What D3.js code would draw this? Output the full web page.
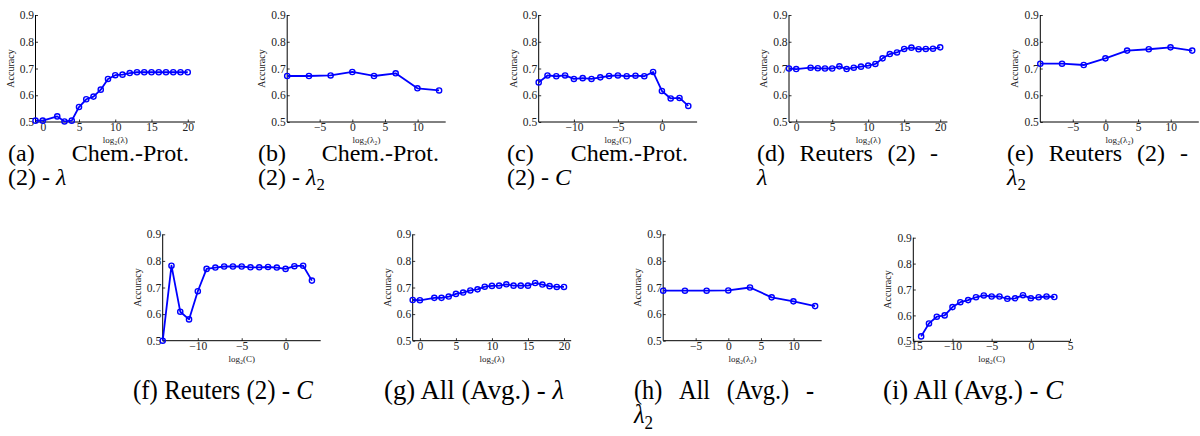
<!DOCTYPE html>
<html><head><meta charset="utf-8">
<script src="https://cdn.jsdelivr.net/npm/d3@7"></script>
<style>
  body { margin: 0; background: #fff; }
  svg { display: block; }
</style>
</head><body>
<svg id="fig" width="1200" height="436"></svg>
<script>
// ---- parameter grids (log2 of the swept value) ----
const lambdaX  = [-1, 0, 2, 3, 4, 5, 6, 7, 8, 9, 10, 11, 12, 13, 14, 15, 16, 17, 18, 19, 20];
const lambda2X = [-9.97, -6.64, -3.32, 0, 3.32, 6.64, 9.97, 13.29];
const cX       = [-14, -13, -12, -11, -10, -9, -8, -7, -6, -5, -4, -3, -2, -1, 0, 1, 2, 3];

// ---- accuracy series ----
const chemLambda  = [0.505, 0.505, 0.521, 0.502, 0.505, 0.556, 0.585, 0.595, 0.621, 0.661, 0.675,
                     0.677, 0.683, 0.686, 0.686, 0.686, 0.686, 0.686, 0.686, 0.686, 0.686];
const chemLambda2 = [0.672, 0.672, 0.674, 0.687, 0.672, 0.682, 0.626, 0.618];
const chemC       = [0.648, 0.674, 0.671, 0.674, 0.661, 0.664, 0.661, 0.667, 0.672, 0.674, 0.671,
                     0.673, 0.671, 0.687, 0.616, 0.588, 0.590, 0.560];
const reutLambda  = [0.700, 0.698, 0.703, 0.701, 0.700, 0.700, 0.708, 0.698, 0.703, 0.707, 0.711,
                     0.717, 0.738, 0.754, 0.760, 0.773, 0.778, 0.772, 0.773, 0.774, 0.779];
const reutLambda2 = [0.718, 0.718, 0.713, 0.738, 0.767, 0.772, 0.779, 0.767];
const reutC       = [0.500, 0.782, 0.609, 0.580, 0.686, 0.770, 0.775, 0.779, 0.779, 0.779, 0.776,
                     0.776, 0.777, 0.775, 0.770, 0.780, 0.782, 0.726];
const allLambda   = [0.653, 0.652, 0.661, 0.661, 0.666, 0.676, 0.681, 0.689, 0.693, 0.703, 0.706,
                     0.707, 0.712, 0.707, 0.707, 0.707, 0.717, 0.711, 0.705, 0.702, 0.702];
const allLambda2  = [0.688, 0.688, 0.688, 0.689, 0.700, 0.663, 0.648, 0.630];
const allC        = [0.519, 0.569, 0.595, 0.600, 0.632, 0.651, 0.659, 0.670, 0.677, 0.673, 0.673,
                     0.664, 0.666, 0.678, 0.666, 0.670, 0.673, 0.671];

// ---- axis ticks and titles ----
const yTicks        = [0.5, 0.6, 0.7, 0.8, 0.9];
const lambdaTicks   = [0, 5, 10, 15, 20];
const lambda2Ticks  = [-5, 0, 5, 10];
const cTicks        = [-10, -5, 0];
const cTicksWide    = [-15, -10, -5, 0, 5];
const xTitleLambda  = "log\u2082(\u03bb)";
const xTitleLambda2 = "log\u2082(\u03bb\u2082)";
const xTitleC       = "log\u2082(C)";
const yTitle        = "Accuracy";

// ---- captions: one array of words per line ($..$ = math, _ = subscript) ----
const captionA = [["(a)", "Chem.-Prot."], ["(2)", "-", "$λ$"]];
const captionB = [["(b)", "Chem.-Prot."], ["(2)", "-", "$λ_2$"]];
const captionC = [["(c)", "Chem.-Prot."], ["(2)", "-", "$C$"]];
const captionD = [["(d)", "Reuters", "(2)", "-"], ["$λ$"]];
const captionE = [["(e)", "Reuters", "(2)", "-"], ["$λ_2$"]];
const captionF = [["(f)", "Reuters", "(2)", "-", "$C$"]];
const captionG = [["(g)", "All", "(Avg.)", "-", "$λ$"]];
const captionH = [["(h)", "All", "(Avg.)", "-"], ["$λ_2$"]];
const captionI = [["(i)", "All", "(Avg.)", "-", "$C$"]];

// ---- layout of the nine small axes ----
const FONT = '"Liberation Serif"';
const TOP = {y0: 15, y1: 122, capX: [8, 258, 507, 757, 1007], capY: 161, fs: 24, squeeze: 1.0, w: 181, lh: 23.5};
const BOT = {y0: 234.3, y1: 340.7, capX: [133, 384, 634, 883], capY: 399, fs: 27, squeeze: 0.9, w: 180, lh: 24};

const panels = [
  {x0: 35.5,  x1: 195,   row: TOP, i: 0, xd: [-1, 21],      xt: lambdaTicks,  xs: lambdaX,  ys: chemLambda,  xTitle: xTitleLambda,  cap: captionA},
  {x0: 287.2, x1: 445.7, row: TOP, i: 1, xd: [-9.97, 14.3], xt: lambda2Ticks, xs: lambda2X, ys: chemLambda2, xTitle: xTitleLambda2, cap: captionB},
  {x0: 538.7, x1: 697.1, row: TOP, i: 2, xd: [-14, 4],      xt: cTicks,       xs: cX,       ys: chemC,       xTitle: xTitleC,       cap: captionC},
  {x0: 789,   x1: 947.4, row: TOP, i: 3, xd: [-1, 21],      xt: lambdaTicks,  xs: lambdaX,  ys: reutLambda,  xTitle: xTitleLambda,  cap: captionD},
  {x0: 1040.3,x1: 1198.8,row: TOP, i: 4, xd: [-9.97, 14.3], xt: lambda2Ticks, xs: lambda2X, ys: reutLambda2, xTitle: xTitleLambda2, cap: captionE},
  {x0: 162.7, x1: 320.7, row: BOT, i: 0, xd: [-14, 4],      xt: cTicks,       xs: cX,       ys: reutC,       xTitle: xTitleC,       cap: captionF},
  {x0: 412.7, x1: 571.2, row: BOT, i: 1, xd: [-1, 21],      xt: lambdaTicks,  xs: lambdaX,  ys: allLambda,   xTitle: xTitleLambda,  cap: captionG},
  {x0: 663.2, x1: 821.7, row: BOT, i: 2, xd: [-9.97, 14.3], xt: lambda2Ticks, xs: lambda2X, ys: allLambda2,  xTitle: xTitleLambda2, cap: captionH},
  {x0: 913.3, x1: 1070,  row: BOT, i: 3, xd: [-15, 5],      xt: cTicksWide,   xs: cX,       ys: allC,        xTitle: xTitleC,       cap: captionI, y0: 237.7, y1: 341.3}
];

const svg = d3.select("#fig");
const fmtTick = d => (d < 0 ? "\u2212" + Math.abs(d) : String(d));

panels.forEach(p => {
  const y0 = p.y0 ?? p.row.y0, y1 = p.y1 ?? p.row.y1;
  const x = d3.scaleLinear().domain(p.xd).range([p.x0, p.x1]);
  const y = d3.scaleLinear().domain([0.5, 0.9]).range([y1, y0]);
  const g = svg.append("g");

  // y axis and x axis, ticks pointing inward, no box
  const ya = g.append("g").attr("transform", `translate(${p.x0},0)`)
    .call(d3.axisLeft(y).tickValues(yTicks).tickSize(-2.5).tickPadding(1.5).tickFormat(d3.format(".1f")));
  const xa = g.append("g").attr("transform", `translate(0,${y1})`)
    .call(d3.axisBottom(x).tickValues(p.xt).tickSize(-2.5).tickPadding(2).tickFormat(fmtTick));
  [ya, xa].forEach(a => {
    a.select(".domain").attr("stroke", "#000").attr("stroke-width", 1);
    a.selectAll(".tick line").attr("stroke", "#000").attr("stroke-width", 0.8);
    a.selectAll(".tick text").attr("fill", "#222").attr("font-size", 11.5);
  });
  xa.selectAll(".tick text").attr("dy", "0.62em");
  ya.select(".domain").attr("d", `M0,${y1}V${y0}`);
  xa.select(".domain").attr("d", `M${p.x0},0H${p.x1}`);

  // axis titles
  g.append("text")
    .attr("transform", `translate(${p.x0 - 22},${(y0 + y1) / 2}) rotate(-90)`)
    .attr("text-anchor", "middle").attr("font-size", 10).attr("fill", "#222")
    .text(yTitle);
  g.append("text")
    .attr("x", (p.x0 + p.x1) / 2).attr("y", y1 + 21)
    .attr("text-anchor", "middle").attr("font-size", 9).attr("fill", "#222")
    .text(p.xTitle);

  // series line with circle markers
  const pts = p.xs.map((v, k) => [v, p.ys[k]]);
  g.append("path").datum(pts)
    .attr("fill", "none").attr("stroke", "#0000ff").attr("stroke-width", 1.8)
    .attr("stroke-linejoin", "round")
    .attr("d", d3.line().x(d => x(d[0])).y(d => y(d[1])));
  g.selectAll("circle").data(pts).join("circle")
    .attr("cx", d => x(d[0])).attr("cy", d => y(d[1])).attr("r", 2.6)
    .attr("fill", "none").attr("stroke", "#0000ff").attr("stroke-width", 1.4);

  g.selectAll("text").style("font-family", FONT);
  drawCaption(p.cap, p.row, p.row.capX[p.i]);
});

// Append a word's glyph runs to a text node ($..$ = italic math, _ = subscript)
function appendWord(t, word, fs) {
  if (word.startsWith("$")) {
    const [base, sub] = word.slice(1, -1).split("_");
    t.append("tspan").attr("font-style", "italic").text(base);
    if (sub) {
      t.append("tspan").attr("font-size", fs * 0.7).attr("dy", fs * 0.21).text(sub);
      t.append("tspan").attr("dy", -fs * 0.21).text("");
    }
  } else {
    t.append("tspan").text(word);
  }
}

function newText(parent, row) {
  return parent.append("text").attr("font-size", row.fs).attr("fill", "#000")
    .style("font-family", FONT);
}

// Captions: a caption that fits on one line is set as a single line across the
// box; otherwise every line but the last is justified to the box width.
function drawCaption(lines, row, bx) {
  const g = svg.append("g");
  if (lines.length === 1) {
    const t = newText(g, row).attr("x", bx).attr("y", row.capY);
    lines[0].forEach((w, k) => {
      if (k) t.append("tspan").text(" ");
      appendWord(t, w, row.fs);
    });
    t.attr("textLength", row.w).attr("lengthAdjust", "spacingAndGlyphs");
    return;
  }
  lines.forEach((words, li) => {
    const nodes = words.map(w => {
      const t = newText(g, row);
      appendWord(t, w, row.fs);
      return t;
    });
    const widths = nodes.map(n => n.node().getComputedTextLength() * row.squeeze);
    nodes.forEach((n, k) => {
      if (row.squeeze !== 1) n.attr("textLength", widths[k]).attr("lengthAdjust", "spacingAndGlyphs");
    });
    const total = d3.sum(widths);
    let gap = row.fs * 0.25;
    if (li < lines.length - 1 && words.length > 1) gap = (row.w - total) / (words.length - 1);
    let cx = bx;
    nodes.forEach((n, k) => {
      n.attr("x", cx).attr("y", row.capY + li * row.lh);
      cx += widths[k] + gap;
    });
  });
}
</script>
</body></html>
